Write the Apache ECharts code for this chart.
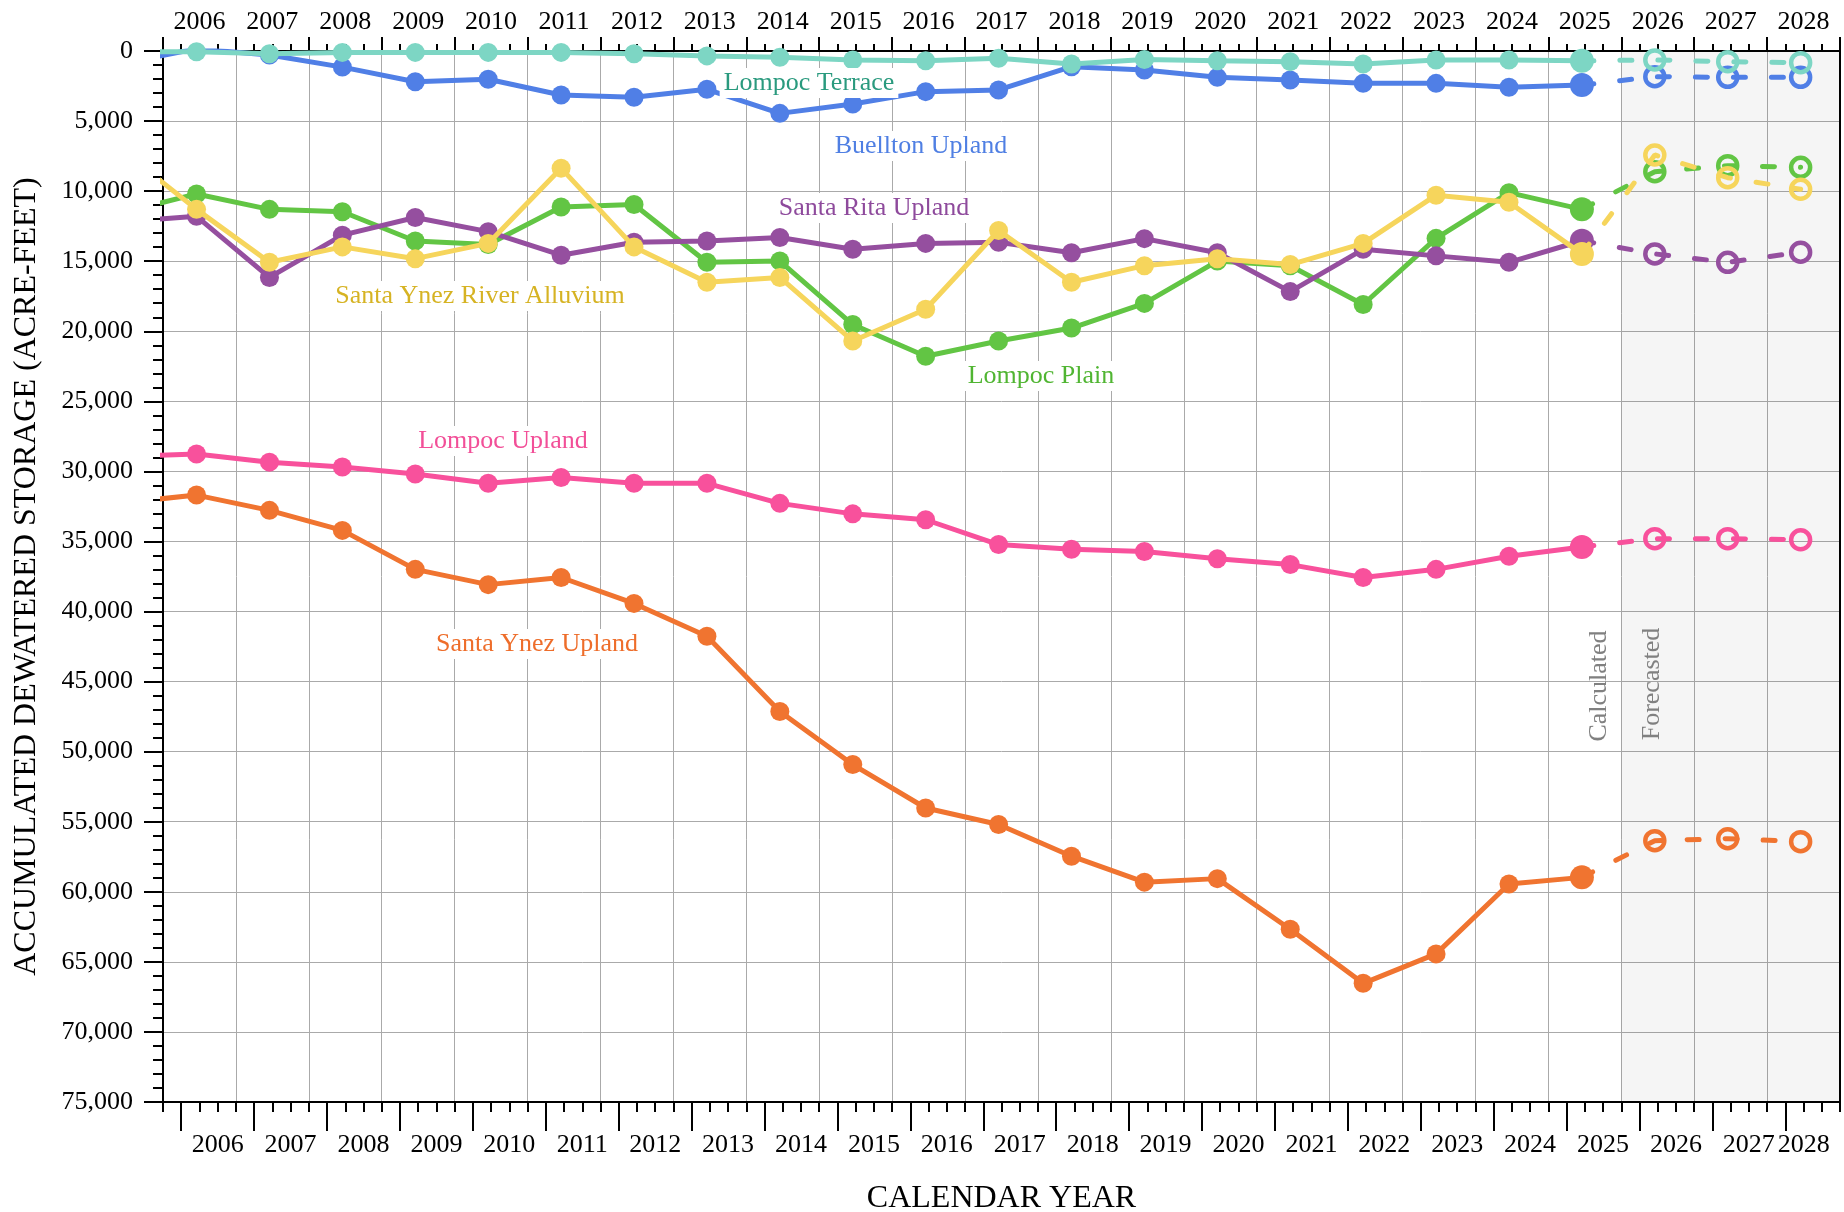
<!DOCTYPE html>
<html>
<head>
<meta charset="utf-8">
<title>Accumulated Dewatered Storage</title>
<script src="https://cdn.jsdelivr.net/npm/echarts@6/dist/echarts.min.js"></script>
<style>
  html, body { margin: 0; padding: 0; background: #fff; }
  #chart { width: 1844px; height: 1212px; }
</style>
</head>
<body>
<div id="chart"></div>
<script>
// years of calculated values (2005 lies just left of the plot and is clipped)
const calcYears = [2005, 2006, 2007, 2008, 2009, 2010, 2011, 2012, 2013, 2014, 2015,
  2016, 2017, 2018, 2019, 2020, 2021, 2022, 2023, 2024, 2025];
const forecastYears = [2025, 2026, 2027, 2028];
const yearLabels = ['2006', '2007', '2008', '2009', '2010', '2011', '2012', '2013', '2014',
  '2015', '2016', '2017', '2018', '2019', '2020', '2021', '2022', '2023', '2024', '2025',
  '2026', '2027', '2028'];

// accumulated dewatered storage, acre-feet
const lompocTerrace = [50, 50, 200, 100, 100, 100, 100, 200, 350, 450, 640, 690, 520, 930, 600, 690, 760, 930, 640, 640, 700];
const lompocTerraceForecast = [700, 640, 760, 830];

const buelltonUpland = [840, -150, 290, 1150, 2190, 2020, 3140, 3300, 2730, 4450, 3780, 2900, 2780, 1120, 1360, 1880, 2070, 2310, 2310, 2590, 2430];
const buelltonUplandForecast = [2430, 1830, 1880, 1880];

const santaRitaUpland = [12170, 11800, 16160, 13140, 11880, 12890, 14570, 13650, 13560, 13310, 14150, 13730, 13650, 14400, 13390, 14400, 17170, 14150, 14620, 15080, 13540];
const santaRitaUplandForecast = [13540, 14480, 15080, 14360];

const lompocPlain = [11500, 10200, 11300, 11470, 13560, 13810, 11130, 10960, 15070, 14990, 19520, 21780, 20690, 19770, 18010, 14990, 15320, 18090, 13370, 10110, 11300];
const lompocPlainForecast = [11300, 8610, 8180, 8300];

const riverAlluvium = [7170, 11300, 15070, 13980, 14820, 13730, 8360, 13980, 16500, 16160, 20690, 18430, 12810, 16500, 15320, 14820, 15240, 13730, 10290, 10790, 14480];
const riverAlluviumForecast = [14480, 7420, 9040, 9870];

const lompocUpland = [28930, 28760, 29340, 29680, 30180, 30850, 30430, 30850, 30850, 32280, 33030, 33450, 35220, 35550, 35720, 36230, 36650, 37570, 36990, 36060, 35390];
const lompocUplandForecast = [35390, 34800, 34800, 34880];

const santaYnezUpland = [32230, 31690, 32780, 34210, 36990, 38080, 37570, 39420, 41770, 47140, 50920, 54020, 55200, 57460, 59310, 59060, 62670, 66530, 64430, 59440, 58970];
const santaYnezUplandForecast = [58970, 56350, 56210, 56420];

const FONT = 'Liberation Serif';
const pointOffset = 0.46; // where in the year a value is plotted

const basins = [
  { name: 'Santa Ynez Upland', color: '#f07430', text: '#ee6d2a', calc: santaYnezUpland, fc: santaYnezUplandForecast, lx: 537, ly: 644 },
  { name: 'Lompoc Upland', color: '#f8519c', text: '#f24f98', calc: lompocUpland, fc: lompocUplandForecast, lx: 503, ly: 441 },
  { name: 'Lompoc Plain', color: '#62c544', text: '#50b532', calc: lompocPlain, fc: lompocPlainForecast, lx: 1041, ly: 376 },
  { name: 'Santa Rita Upland', color: '#954f9f', text: '#8e4a9c', calc: santaRitaUpland, fc: santaRitaUplandForecast, lx: 874, ly: 208 },
  { name: 'Santa Ynez River Alluvium', color: '#f6d55c', text: '#d6b323', calc: riverAlluvium, fc: riverAlluviumForecast, lx: 480, ly: 296 },
  { name: 'Buellton Upland', color: '#507fe6', text: '#4f7fe3', calc: buelltonUpland, fc: buelltonUplandForecast, lx: 921, ly: 146 },
  { name: 'Lompoc Terrace', color: '#7dd6c4', text: '#2a9a7e', calc: lompocTerrace, fc: lompocTerraceForecast, lx: 809, ly: 83 }
];

const series = [];
basins.forEach(function (b, k) {
  series.push({
    name: b.name,
    type: 'line',
    xAxisIndex: 0,
    yAxisIndex: 0,
    z: 3 + k,
    clip: true,
    animation: false,
    symbol: 'circle',
    symbolSize: 19,
    showAllSymbol: true,
    lineStyle: { color: b.color, width: 5 },
    itemStyle: { color: b.color },
    data: calcYears.map(function (yr, i) {
      const pt = [yr + pointOffset, b.calc[i]];
      return i === calcYears.length - 1 ? { value: pt, symbolSize: 24 } : pt;
    }),
    markArea: k === 0 ? {
      silent: true,
      itemStyle: { color: 'rgba(0,0,0,0.04)' },
      data: [[{ xAxis: 2026 }, { xAxis: 2029 }]]
    } : undefined
  });
  series.push({
    name: b.name + ' forecast',
    type: 'line',
    xAxisIndex: 0,
    yAxisIndex: 0,
    z: 3 + k,
    animation: false,
    symbol: 'circle',
    symbolSize: 19,
    lineStyle: { color: b.color, width: 5, type: [12, 26], cap: 'round' },
    itemStyle: { color: 'rgba(255,255,255,0)', borderColor: b.color, borderWidth: 4.5 },
    data: forecastYears.map(function (yr, i) {
      const pt = [yr + pointOffset, b.fc[i]];
      return i === 0 ? { value: pt, symbol: 'none' } : pt;
    })
  });
});

// quarter-year slots along the year axes
const quarterSlots = [];
for (let i = 0; i <= yearLabels.length * 4; i++) quarterSlots.push(String(i));

const tickStyle = { color: '#000', width: 2 };
const labelStyle = { fontFamily: FONT, fontSize: 26, color: '#000' };

const graphics = basins.map(function (b) {
  return {
    type: 'text', x: b.lx, y: b.ly, z: 50,
    style: {
      text: b.name, fill: b.text, font: '26px "Liberation Serif"',
      align: 'center', verticalAlign: 'middle',
      backgroundColor: '#fff', padding: [2, 4]
    }
  };
});
graphics.push({
  type: 'text', x: 1599, y: 686, rotation: Math.PI / 2, z: 50,
  style: { text: 'Calculated', fill: '#808080', font: '26px "Liberation Serif"', align: 'center', verticalAlign: 'middle' }
});
graphics.push({
  type: 'text', x: 1652, y: 684, rotation: Math.PI / 2, z: 50,
  style: { text: 'Forecasted', fill: '#808080', font: '26px "Liberation Serif"', align: 'center', verticalAlign: 'middle' }
});

const option = {
  backgroundColor: '#fff',
  animation: false,
  grid: { left: 163, right: 4, top: 51, bottom: 110, containLabel: false, outerBoundsMode: 'none' },
  xAxis: [
    {
      type: 'value', min: 2006, max: 2029, interval: 1, position: 'bottom',
      axisLine: { show: false, onZero: false },
      axisTick: { show: false },
      axisLabel: { show: false },
      splitLine: { show: true, lineStyle: { color: '#aaaaaa', width: 1 } }
    },
    {
      type: 'category', data: quarterSlots, boundaryGap: false, position: 'bottom',
      axisLine: { show: true, onZero: false, lineStyle: tickStyle },
      axisTick: { show: true, interval: 0, length: 10, lineStyle: tickStyle },
      axisLabel: Object.assign({
        interval: function (i) { return i % 4 === 3; },
        margin: 30,
        formatter: function (v) {
          const i = Number(v);
          const y = yearLabels[(i - 3) / 4];
          return i === yearLabels.length * 4 - 1 ? '{last|' + y + '}' : y;
        },
        rich: { last: { fontFamily: FONT, fontSize: 26, color: '#000', padding: [0, 36, 0, 0] } }
      }, labelStyle),
      splitLine: { show: false },
      name: 'CALENDAR YEAR', nameLocation: 'middle', nameGap: 81,
      nameTextStyle: { fontFamily: FONT, fontSize: 32, color: '#000' }
    },
    {
      type: 'category', data: quarterSlots, boundaryGap: false, position: 'bottom',
      axisLine: { show: false, onZero: false },
      axisTick: { show: true, interval: function (i) { return i % 4 === 1; }, length: 29, lineStyle: tickStyle },
      axisLabel: { show: false },
      splitLine: { show: false }
    },
    {
      type: 'category', data: quarterSlots, boundaryGap: false, position: 'top',
      axisLine: { show: true, onZero: false, lineStyle: tickStyle },
      axisTick: { show: true, interval: 0, length: 7, lineStyle: tickStyle },
      axisLabel: Object.assign({
        interval: function (i) { return i % 4 === 2; },
        margin: 16,
        formatter: function (v) { return yearLabels[(Number(v) - 2) / 4]; }
      }, labelStyle),
      splitLine: { show: false }
    },
    {
      type: 'category', data: quarterSlots, boundaryGap: false, position: 'top',
      axisLine: { show: false, onZero: false },
      axisTick: { show: true, interval: function (i) { return i % 4 === 0; }, length: 14, lineStyle: tickStyle },
      axisLabel: { show: false },
      splitLine: { show: false }
    }
  ],
  yAxis: [
    {
      type: 'value', inverse: true, min: 0, max: 75000, interval: 5000, position: 'left',
      axisLine: { show: true, onZero: false, lineStyle: tickStyle },
      axisTick: { show: true, length: 19, lineStyle: tickStyle },
      minorTick: { show: true, splitNumber: 5, length: 10, lineStyle: tickStyle },
      axisLabel: Object.assign({
        margin: 30,
        formatter: function (v) { return v.toLocaleString('en-US'); }
      }, labelStyle),
      splitLine: { show: true, lineStyle: { color: '#aaaaaa', width: 1 } },
      name: 'ACCUMULATED DEWATERED STORAGE (ACRE-FEET)', nameLocation: 'middle', nameGap: 120,
      nameTextStyle: { fontFamily: FONT, fontSize: 32, color: '#000' }
    },
    {
      type: 'value', inverse: true, min: 0, max: 75000, position: 'right',
      axisLine: { show: true, onZero: false, lineStyle: tickStyle },
      axisTick: { show: false },
      axisLabel: { show: false },
      splitLine: { show: false }
    }
  ],
  graphic: graphics,
  series: series
};

const chart = echarts.init(document.getElementById('chart'));
chart.setOption(option);
</script>
</body>
</html>
